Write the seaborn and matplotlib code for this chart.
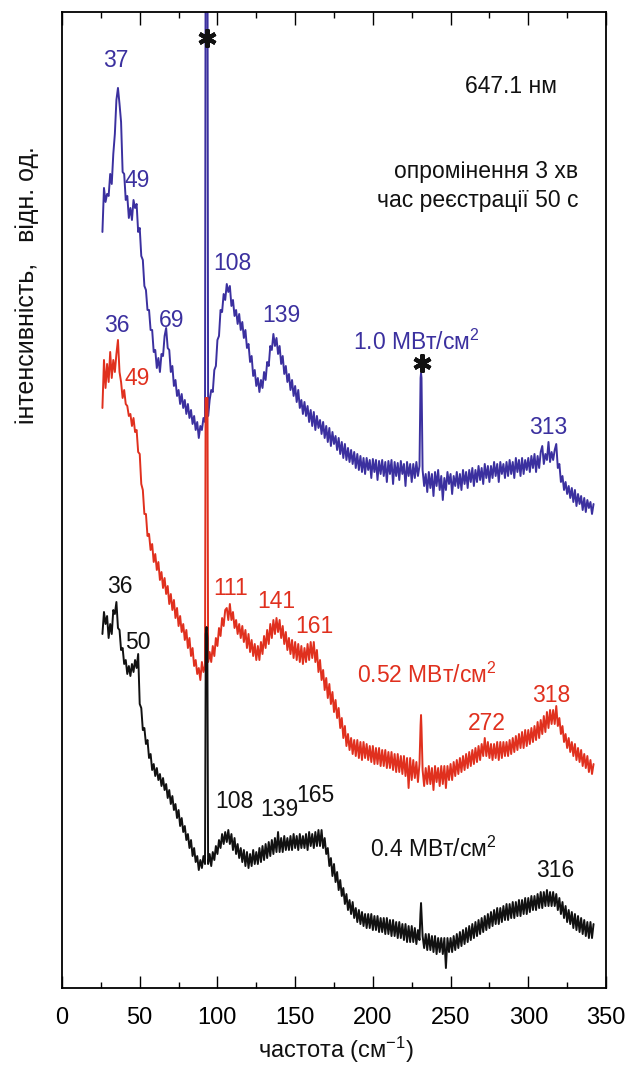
import numpy as np
import matplotlib
matplotlib.use("Agg")
import matplotlib.pyplot as plt
import seaborn as sns
from matplotlib.ticker import MultipleLocator

sns.set_theme(style="white")
plt.rcParams['font.family'] = ['Liberation Sans', 'DejaVu Sans']
plt.rcParams['mathtext.fontset'] = 'custom'
plt.rcParams['mathtext.rm'] = 'Liberation Sans'
plt.rcParams['mathtext.it'] = 'Liberation Sans:italic'
plt.rcParams['mathtext.bf'] = 'Liberation Sans:bold'

# ---------------- data (intensity, arb. units) ----------------
freq = np.arange(26, 343, 1)  # Raman shift grid, cm^-1 (26 ... 342)

blue_int = [
    768, 812, 798, 806, 804, 826, 816, 846, 866, 900,   # 26-35
    912, 896, 878, 828, 826, 800, 804, 782, 792, 780,   # 36-45
    800, 792, 796, 768, 772, 744, 740, 714, 710, 690,   # 46-55
    690, 670, 670, 648, 650, 632, 642, 628, 646, 644,   # 56-65
    664, 672, 652, 650, 628, 634, 614, 620, 604, 610,   # 66-75
    596, 606, 592, 600, 586, 596, 582, 590, 576, 584,   # 76-85
    570, 578, 562, 574, 570, 582, 578, 1060, 584, 600,  # 86-95
    610, 608, 630, 634, 660, 664, 690, 688, 706, 700,   # 96-105
    716, 708, 714, 694, 700, 684, 690, 676, 686, 670,   # 106-115
    678, 662, 670, 652, 656, 638, 644, 624, 630, 614,   # 116-125
    622, 608, 620, 612, 628, 620, 638, 634, 654, 650,   # 126-135
    666, 654, 662, 646, 654, 636, 644, 626, 634, 618,   # 136-145
    626, 610, 620, 604, 614, 598, 610, 592, 600, 586,   # 146-155
    598, 584, 594, 578, 590, 574, 588, 570, 584, 572,   # 156-165
    580, 566, 578, 562, 574, 558, 572, 554, 568, 556,   # 166-175
    564, 550, 562, 546, 558, 542, 556, 540, 552, 538,   # 176-185
    550, 536, 548, 532, 546, 530, 544, 528, 542, 526,   # 186-195
    542, 530, 540, 522, 541, 528, 540, 520, 539, 526,   # 196-205
    540, 524, 538, 518, 539, 526, 540, 516, 538, 524,   # 206-215
    537, 520, 539, 526, 536, 514, 538, 524, 536, 518,   # 216-225
    536, 522, 538, 524, 534, 627, 530, 514, 526, 508,   # 226-235
    528, 512, 526, 504, 528, 514, 530, 510, 524, 500,   # 236-245
    522, 510, 528, 516, 526, 506, 524, 514, 528, 512,   # 246-255
    526, 510, 530, 516, 528, 512, 530, 518, 532, 514,   # 256-265
    530, 518, 534, 520, 532, 516, 536, 522, 534, 518,   # 266-275
    534, 522, 538, 524, 536, 518, 538, 526, 536, 522,   # 276-285
    538, 524, 540, 526, 538, 522, 542, 528, 540, 524,   # 286-295
    542, 526, 540, 530, 542, 528, 544, 532, 546, 528,   # 296-305
    544, 532, 548, 554, 536, 546, 540, 558, 538, 548,   # 306-315
    540, 550, 556, 532, 536, 518, 524, 510, 518, 506,   # 316-325
    514, 502, 512, 498, 510, 494, 506, 496, 504, 490,   # 326-335
    502, 488, 500, 492, 498, 486, 496,                  # 336-342
]
red_int = [
    592, 640, 612, 636, 618, 648, 622, 640, 628, 646,   # 26-35
    660, 628, 618, 602, 610, 596, 594, 584, 586, 574,   # 36-45
    582, 568, 570, 548, 546, 516, 510, 486, 486, 464,   # 46-55
    466, 450, 456, 438, 446, 430, 438, 420, 428, 412,   # 56-65
    422, 406, 414, 396, 406, 390, 400, 382, 392, 374,   # 66-75
    384, 368, 376, 360, 370, 352, 362, 344, 352, 334,   # 76-85
    340, 326, 332, 320, 338, 328, 334, 602, 338, 348,   # 86-95
    338, 354, 344, 362, 354, 372, 364, 382, 374, 390,   # 96-105
    392, 380, 396, 380, 388, 372, 380, 366, 376, 362,   # 106-115
    374, 358, 370, 352, 366, 348, 360, 344, 356, 340,   # 116-125
    354, 340, 358, 346, 364, 352, 370, 356, 376, 362,   # 126-135
    380, 366, 382, 368, 380, 362, 374, 356, 368, 350,   # 136-145
    362, 346, 360, 342, 358, 340, 356, 338, 354, 336,   # 146-155
    352, 338, 356, 340, 358, 342, 358, 338, 350, 328,   # 156-165
    340, 320, 330, 310, 322, 302, 316, 296, 308, 288,   # 166-175
    300, 282, 292, 272, 282, 262, 274, 254, 266, 250,   # 176-185
    262, 246, 260, 244, 260, 242, 258, 240, 258, 242,   # 186-195
    256, 240, 254, 238, 254, 236, 252, 236, 252, 234,   # 196-205
    250, 234, 250, 232, 248, 232, 248, 230, 246, 228,   # 206-215
    246, 228, 244, 226, 244, 224, 242, 212, 242, 220,   # 216-225
    240, 222, 238, 218, 236, 285, 230, 214, 232, 216,   # 226-235
    234, 216, 232, 210, 234, 218, 232, 214, 234, 216,   # 236-245
    234, 212, 234, 220, 236, 220, 238, 224, 240, 226,   # 246-255
    242, 228, 244, 230, 246, 232, 248, 234, 250, 236,   # 256-265
    252, 238, 254, 240, 256, 244, 262, 244, 258, 242,   # 266-275
    256, 240, 256, 242, 258, 240, 258, 242, 258, 244,   # 276-285
    258, 244, 260, 246, 262, 248, 264, 250, 266, 252,   # 286-295
    268, 252, 270, 254, 270, 256, 272, 258, 274, 260,   # 296-305
    278, 262, 280, 266, 284, 268, 288, 272, 290, 276,   # 306-315
    290, 276, 294, 274, 282, 266, 274, 258, 266, 252,   # 316-325
    262, 248, 258, 244, 256, 240, 252, 238, 250, 234,   # 326-335
    246, 232, 244, 228, 240, 226, 236,                  # 336-342
]
black_int = [
    366, 388, 376, 384, 362, 376, 366, 390, 386, 398,   # 26-35
    372, 370, 350, 352, 336, 340, 326, 334, 324, 336,   # 36-45
    328, 340, 332, 346, 296, 292, 270, 272, 256, 260,   # 46-55
    242, 246, 230, 236, 224, 232, 220, 226, 214, 222,   # 56-65
    210, 216, 202, 210, 196, 204, 190, 196, 182, 190,   # 66-75
    174, 182, 168, 174, 160, 166, 152, 160, 144, 152,   # 76-85
    138, 144, 130, 140, 132, 144, 136, 373, 136, 146,   # 86-95
    134, 148, 140, 154, 146, 160, 152, 166, 156, 168,   # 96-105
    158, 170, 156, 166, 150, 162, 146, 156, 142, 152,   # 106-115
    138, 150, 134, 148, 132, 146, 134, 150, 136, 148,   # 116-125
    136, 152, 138, 154, 140, 156, 142, 158, 144, 160,   # 126-135
    146, 162, 148, 168, 148, 162, 148, 164, 150, 162,   # 136-145
    150, 164, 150, 166, 152, 164, 150, 166, 152, 164,   # 146-155
    152, 166, 150, 168, 154, 166, 152, 168, 154, 170,   # 156-165
    154, 170, 152, 162, 146, 152, 134, 142, 124, 136,   # 166-175
    118, 128, 110, 120, 104, 112, 96, 106, 90, 100,     # 176-185
    86, 98, 82, 92, 78, 90, 76, 88, 74, 86,             # 186-195
    72, 86, 72, 86, 70, 84, 70, 84, 68, 82,             # 196-205
    68, 82, 66, 82, 66, 80, 64, 80, 64, 78,             # 206-215
    62, 78, 62, 76, 60, 76, 58, 74, 58, 74,             # 216-225
    58, 72, 56, 70, 60, 97, 64, 52, 66, 50,             # 226-235
    66, 50, 64, 48, 64, 46, 62, 48, 62, 46,             # 236-245
    62, 32, 62, 48, 62, 48, 64, 50, 66, 52,             # 246-255
    68, 54, 70, 56, 72, 58, 74, 60, 76, 62,             # 256-265
    78, 64, 80, 66, 82, 68, 84, 70, 86, 72,             # 266-275
    88, 74, 90, 76, 92, 76, 92, 78, 94, 80,             # 276-285
    96, 80, 96, 82, 98, 82, 98, 84, 100, 84,            # 286-295
    100, 86, 102, 86, 102, 88, 104, 90, 104, 90,        # 296-305
    106, 92, 108, 92, 108, 94, 110, 94, 108, 94,        # 306-315
    108, 94, 106, 90, 102, 86, 98, 82, 94, 78,          # 316-325
    90, 76, 88, 72, 86, 70, 84, 68, 82, 66,             # 326-335
    80, 64, 78, 62, 78, 62, 76,                         # 336-342
]

# extra samples across the narrow lines (marked with *)
blue_spike_f = [92.4, 93.6, 230.7, 231.3]
blue_spike_i = [1060, 1060, 622, 622]
red_spike_f = [92.4, 93.6, 230.7, 231.3]
red_spike_i = [602, 602, 275, 272]
black_spike_f = [92.5, 93.5, 230.6, 231.4]
black_spike_i = [366, 362, 86, 84]

# positions of the "*" marks over the narrow lines
star_freq = [93.3, 231.5]
star_int = [962, 637]

series_labels = ["1.0 МВт/см$^2$", "0.52 МВт/см$^2$", "0.4 МВт/см$^2$"]
blue_peaks = ["37", "49", "36", "69", "108", "139", "313"]
red_peaks = ["49", "111", "141", "161", "272", "318"]
black_peaks = ["36", "50", "108", "139", "165", "316"]
x_ticks = [0, 50, 100, 150, 200, 250, 300, 350]

BLUE = "#3b309f"
RED = "#e0301e"
BLACK = "#111111"


def merge(grid, vals, sf, sv):
    x = np.concatenate([grid, np.asarray(sf, float)])
    y = np.concatenate([np.asarray(vals, float), np.asarray(sv, float)])
    o = np.argsort(x, kind="stable")
    return x[o], y[o]


fig = plt.figure(figsize=(6.27, 10.67), dpi=100)
ax = fig.add_axes([0.0989, 0.0740, 0.8676, 0.9148])

for vals, sf, sv, col in [(blue_int, blue_spike_f, blue_spike_i, BLUE),
                          (red_int, red_spike_f, red_spike_i, RED),
                          (black_int, black_spike_f, black_spike_i, BLACK)]:
    x, y = merge(freq, vals, sf, sv)
    sns.lineplot(x=x, y=y, ax=ax, color=col, lw=1.4, sort=False,
                 estimator=None, legend=False)

# asterisk marks
ax.plot(star_freq, star_int, linestyle="none", marker=(6, 2, 0), markersize=13,
        markeredgewidth=3.0, color=BLACK)

ax.set_xlim(0, 350)
ax.set_ylim(12, 988)
ax.set_xticks(x_ticks)
ax.set_xticklabels([str(t) for t in x_ticks])
ax.xaxis.set_minor_locator(MultipleLocator(25))
ax.set_yticks([])
ax.set_xlabel("")
ax.set_ylabel("")
for s in ax.spines.values():
    s.set_color("black")
    s.set_linewidth(1.3)
ax.tick_params(axis="x", which="major", direction="in", top=True, bottom=True,
               length=9, width=1.0, color="black", labelsize=17, pad=14,
               labelcolor="black")
ax.tick_params(axis="x", which="minor", direction="in", top=True, bottom=True,
               length=4.5, width=1.0, color="black")

fs = 16.5
# blue annotations
for txt, (px, py) in zip(blue_peaks, [(34.4, 933), (48.6, 813), (35.1, 668), (70.8, 673),
                                       (109.7, 730), (141.2, 678), (312.7, 566)]):
    ax.text(px, py, txt, color=BLUE, fontsize=fs, ha="center", va="baseline")
ax.text(228.1, 650, series_labels[0], color=BLUE, fontsize=fs, ha="center", va="baseline")
# red annotations
for txt, (px, py) in zip(red_peaks, [(48.3, 615), (108.8, 405), (138.1, 392), (162.2, 367),
                                      (273.5, 270), (314.7, 298)]):
    ax.text(px, py, txt, color=RED, fontsize=fs, ha="center", va="baseline")
ax.text(234.7, 317, series_labels[1], color=RED, fontsize=fs, ha="center", va="baseline")
# black annotations
for txt, (px, py) in zip(black_peaks, [(37.0, 407), (48.7, 351), (111.0, 192), (140.0, 184),
                                        (163.1, 198), (317.2, 123)]):
    ax.text(px, py, txt, color=BLACK, fontsize=fs, ha="center", va="baseline")
ax.text(238.9, 143, series_labels[2], color=BLACK, fontsize=fs, ha="center", va="baseline")

# info text
ax.text(288.6, 907, "647.1 нм", color=BLACK, fontsize=fs, ha="center", va="baseline")
ax.text(332, 822, "опромінення 3 хв", color=BLACK, fontsize=fs, ha="right", va="baseline")
ax.text(332, 793, "час реєстрації 50 с", color=BLACK, fontsize=fs, ha="right", va="baseline")

fig.text(0.043, 0.733, "інтенсивність,   відн. од.", rotation=90, fontsize=18,
         ha="center", va="center", color=BLACK)
fig.text(0.536, 0.0084, "частота (см$^{-1}$)", fontsize=17, ha="center",
         va="baseline", color=BLACK)

fig.savefig("out.png", dpi=100, facecolor="white")
